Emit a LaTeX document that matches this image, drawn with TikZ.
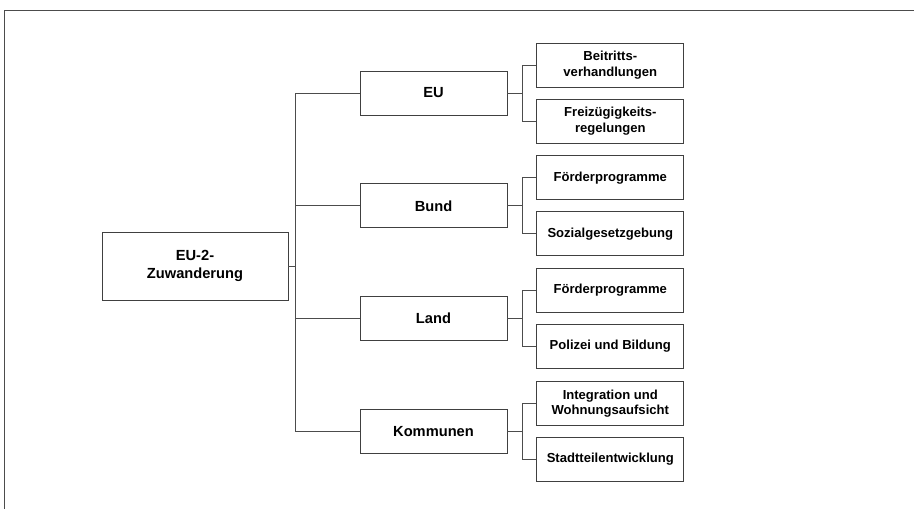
\documentclass[tikz,border=0pt]{standalone}
\usepackage{fontspec}
\setmainfont{Liberation Sans}
\usetikzlibrary{positioning}

\tikzset{
  box/.style={draw=black!75, line width=0.6pt, align=center, inner sep=2pt},
  rootbox/.style={box, minimum width=139.5pt, minimum height=51pt, font=\fontsize{11}{13}\selectfont\bfseries},
  levelbox/.style={box, minimum width=110.25pt, minimum height=33pt, font=\fontsize{11}{13}\selectfont\bfseries},
  subbox/.style={box, minimum width=110.25pt, minimum height=33pt, font=\fontsize{9.8}{11.5}\selectfont\bfseries},
  link/.style={draw=black!70, line width=0.5pt}
}

\begin{document}
\begin{tikzpicture}[x=0.75pt, y=-0.75pt]

    \useasboundingbox (0,0) rectangle (914,509);

    % Frame

    \draw[black!70, line width=0.6pt] (4,509) -- (4,10) -- (914,10);

    % Nodes

    \node[rootbox] (root) at (195,266) {EU-2-\\Zuwanderung};
    \node[levelbox] (eu) at (433.5,93) {EU};
    \node[levelbox, below=51pt of eu] (bund) {Bund};
    \node[levelbox, below=51pt of bund] (land) {Land};
    \node[levelbox, below=51pt of land] (kom) {Kommunen};

    \node[subbox, right=21.75pt of eu, yshift=21pt] (eu-1) {Beitritts-\\verhandlungen};
    \node[subbox, right=21.75pt of eu, yshift=-21pt] (eu-2) {Freizügigkeits-\\regelungen};
    \node[subbox, right=21.75pt of bund, yshift=21pt] (bund-1) {Förderprogramme};
    \node[subbox, right=21.75pt of bund, yshift=-21pt] (bund-2) {Sozialgesetzgebung};
    \node[subbox, right=21.75pt of land, yshift=21pt] (land-1) {Förderprogramme};
    \node[subbox, right=21.75pt of land, yshift=-21pt] (land-2) {Polizei und Bildung};
    \node[subbox, right=21.75pt of kom, yshift=21pt] (kom-1) {Integration und\\Wohnungsaufsicht};
    \node[subbox, right=21.75pt of kom, yshift=-21pt] (kom-2) {Stadtteilentwicklung};

    % Edges

    \coordinate (trunk) at (295,266);
    \draw[link] (root.east) -- (trunk);
    \draw[link] (eu.west) -- (eu.west -| trunk) -- (kom.west -| trunk) -- (kom.west);
    \draw[link] (bund.west) -- (bund.west -| trunk);
    \draw[link] (land.west) -- (land.west -| trunk);

    \foreach \n in {eu,bund,land,kom}{
        \draw[link] (\n.east) -- ++(11.25pt,0) coordinate (\n-fork);
        \draw[link] (\n-1.west) -- (\n-1.west -| \n-fork) -- (\n-2.west -| \n-fork) -- (\n-2.west);
    }

\end{tikzpicture}
\end{document}
